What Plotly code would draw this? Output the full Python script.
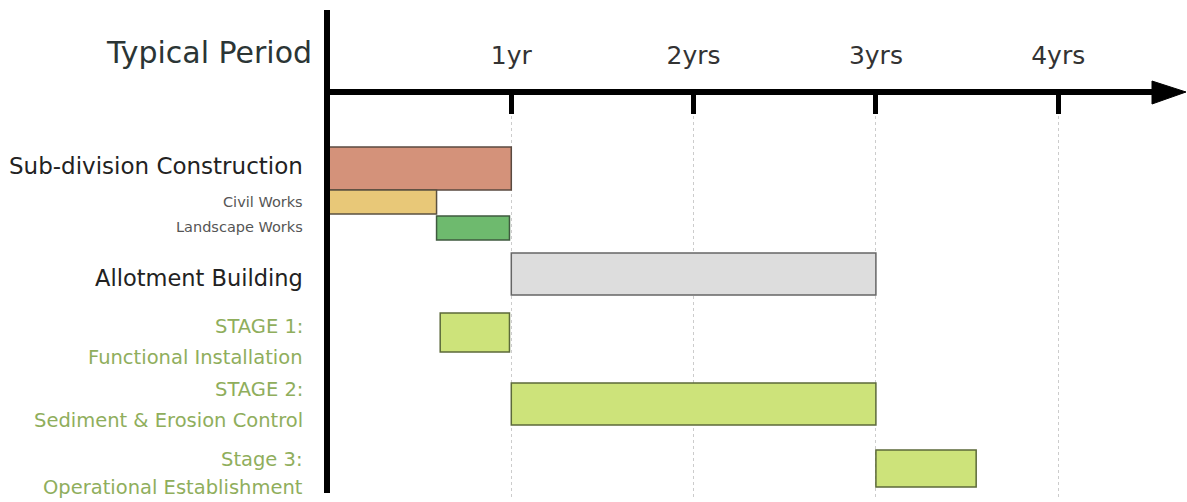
import plotly.graph_objects as go

# ---- data ----
tasks = ["Sub-division Construction", "Civil Works", "Landscape Works",
         "Allotment Building", "STAGE 1: Functional Installation",
         "STAGE 2: Sediment & Erosion Control", "Stage 3: Operational Establishment"]
start_yr = [0.0, 0.0, 0.59, 1.0, 0.61, 1.0, 3.0]
end_yr = [1.0, 0.59, 0.99, 3.0, 0.99, 3.0, 3.55]
tick_vals = [1, 2, 3, 4]
tick_text = ["1yr", "2yrs", "3yrs", "4yrs"]

# ---- layout / style (not data) ----
row_center = [76.5, 110, 136, 182, 240.5, 312, 376.5]
row_height = [43, 24, 24, 42, 39, 42, 37]
bar_colors = ["#D4927A", "#E8C878", "#6EBA6E", "#DDDDDD", "#CDE37A", "#CDE37A", "#CDE37A"]
line_colors = ["#5a4a40", "#5a5040", "#3f5a3f", "#666666", "#5c6a3a", "#5c6a3a", "#5c6a3a"]

FONT = "DejaVu Sans"
W, H = 1187, 502
L, T, B = 327, 92, 5
plot_w = W - L
plot_h = H - T - B
px_per_year = 182.3
x0_px = 329

def px_x(px):
    return (px - L) / plot_w

def px_y(py):
    return (H - B - py) / plot_h

durations = [e - s for s, e in zip(start_yr, end_yr)]

fig = go.Figure()
fig.add_trace(go.Bar(
    orientation="h",
    y=row_center,
    x=durations,
    base=start_yr,
    width=row_height,
    marker=dict(color=bar_colors, line=dict(color=line_colors, width=1.5)),
    hoverinfo="skip",
    text=tasks,
    textposition="none",
))

x_min = (L - x0_px) / px_per_year
x_max = (W - x0_px) / px_per_year

fig.update_layout(
    width=W, height=H,
    margin=dict(l=L, r=0, t=T, b=B, pad=0),
    paper_bgcolor="white", plot_bgcolor="white",
    showlegend=False,
    font=dict(family=FONT),
    xaxis=dict(
        range=[x_min, x_max], side="top",
        tickvals=tick_vals, ticktext=tick_text,
        ticks="inside", ticklen=22, tickwidth=5, tickcolor="black",
        ticklabelstandoff=22,
        tickfont=dict(family=FONT, size=25, color="#333333"),
        showgrid=True, griddash="dot", gridcolor="#cccccc", gridwidth=1,
        zeroline=False, showline=False, fixedrange=True,
    ),
    yaxis=dict(range=[plot_h, 0], visible=False, fixedrange=True),
)

shapes = []
# vertical axis line
shapes.append(dict(type="line", xref="paper", yref="paper",
                   x0=0, x1=0, y0=px_y(493), y1=px_y(10),
                   line=dict(color="black", width=6)))
# horizontal axis line
shapes.append(dict(type="line", xref="paper", yref="paper",
                   x0=px_x(324), x1=px_x(1158), y0=1, y1=1,
                   line=dict(color="black", width=6)))
# arrow head
shapes.append(dict(type="path", xref="paper", yref="paper",
                   path=f"M {px_x(1152)},{px_y(81)} L {px_x(1186)},{px_y(92)} L {px_x(1152)},{px_y(104)} Z",
                   fillcolor="black", line=dict(color="black", width=1)))
fig.update_layout(shapes=shapes)

ann = []
ann.append(dict(text="Typical Period", xref="paper", yref="paper",
                x=px_x(314), y=px_y(52), xanchor="right", yanchor="middle",
                showarrow=False, font=dict(family=FONT, size=30, color="#2b3535")))

lab_x = px_x(305)
labels = [
    ("Sub-division Construction", 74, 23, "#222222"),
    ("Civil Works", 110, 14.5, "#555555"),
    ("Landscape Works", 135, 14.5, "#555555"),
    ("Allotment Building", 186, 22.5, "#222222"),
    ("STAGE 1:", 234, 19.5, "#8FAE5C"),
    ("Functional Installation", 265, 19.5, "#8FAE5C"),
    ("STAGE 2:", 297, 19.5, "#8FAE5C"),
    ("Sediment & Erosion Control", 328, 19.5, "#8FAE5C"),
    ("Stage 3:", 367, 19.5, "#8FAE5C"),
    ("Operational Establishment", 395, 19.5, "#8FAE5C"),
]
for txt, yy, sz, col in labels:
    ann.append(dict(text=txt, xref="paper", yref="y", x=lab_x, y=yy,
                    xanchor="right", yanchor="middle", showarrow=False,
                    font=dict(family=FONT, size=sz, color=col)))
fig.update_layout(annotations=ann)

fig.write_html("out.html", config={"displayModeBar": False})
